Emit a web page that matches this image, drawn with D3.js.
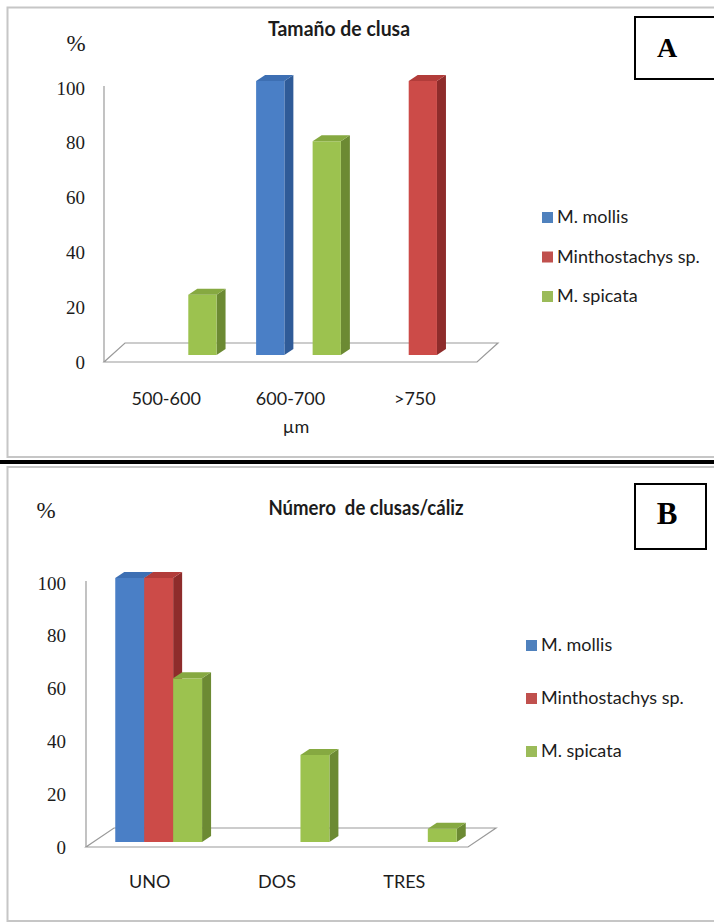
<!DOCTYPE html>
<html>
<head>
<meta charset="utf-8">
<script src="https://cdn.jsdelivr.net/npm/d3@7/dist/d3.min.js"></script>
<style>
  html, body { margin: 0; padding: 0; background: #fff; }
  svg { display: block; }
</style>
</head>
<body>
<div id="figure"></div>
<script>
// series / categories / values
const series = ["M. mollis", "Minthostachys sp.", "M. spicata"];

const sizeCategories = ["500-600", "600-700", ">750"];
const sizeMollis = [0, 100, 0];
const sizeMintho = [0, 0, 100];
const sizeSpicata = [22, 78, 0];

const countCategories = ["UNO", "DOS", "TRES"];
const countMollis = [100, 0, 0];
const countMintho = [100, 0, 0];
const countSpicata = [62, 33, 5];

const yTicks = [0, 20, 40, 60, 80, 100];

const colors = {
    front: ["#4a7fc6", "#cc4b48", "#9cc24f"],
    side: ["#2f5b98", "#8e2c2b", "#6c8a33"],
    top: ["#3d6fb3", "#b23c3a", "#86a941"],
    legend: ["#4f81bd", "#c0504d", "#9bbb59"],
    axis: "#9a9a9a",
    text: "#1c1c1c",
    border: "#c6c6c6"
};

const SANS = "Lato, 'Open Sans', sans-serif";
const SERIF = "'Liberation Serif', 'DejaVu Serif', serif";

const svg = d3.select("#figure").append("svg")
    .attr("width", 714)
    .attr("height", 923);

function drawPanel(cfg, categories, values, title) {
    const g = svg.append("g");

    // panel frame
    g.append("rect")
        .attr("x", 7.5).attr("y", cfg.top)
        .attr("width", 730).attr("height", cfg.bottom - cfg.top)
        .attr("fill", "#fff")
        .attr("stroke", colors.border)
        .attr("stroke-width", 2);

    const x = d3.scaleBand().domain(categories).range([cfg.axisX, cfg.plotRight]);
    const xs = d3.scaleBand().domain(series).range([0, x.bandwidth()]).paddingOuter(0.7);
    const y = d3.scaleLinear().domain([0, 100]).range([cfg.y0, cfg.y100]);

    // floor
    const floor = [
        [cfg.axisX, y(0)],
        [cfg.plotRight, y(0)],
        [cfg.plotRight + cfg.floorDx, y(0) + cfg.floorDy],
        [cfg.axisX + cfg.floorDx, y(0) + cfg.floorDy]
    ];
    g.append("path")
        .attr("d", d3.line()(floor) + "Z")
        .attr("fill", "none")
        .attr("stroke", colors.axis)
        .attr("stroke-width", 1.2);

    g.append("line")
        .attr("x1", cfg.axisX).attr("x2", cfg.axisX)
        .attr("y1", y(0)).attr("y2", y(100) - 2)
        .attr("stroke", colors.axis)
        .attr("stroke-width", 1.2);

    // y axis labels
    const yAxis = g.append("g")
        .attr("transform", `translate(${cfg.axisX},0)`)
        .call(d3.axisLeft(y).tickValues(yTicks).tickSize(0).tickPadding(cfg.tickPad));
    yAxis.select(".domain").remove();
    yAxis.attr("font-family", SERIF).attr("font-size", 19);
    yAxis.selectAll("text").attr("fill", colors.text);

    // category labels
    const xAxis = g.append("g")
        .attr("transform", `translate(0,${y(0)})`)
        .call(d3.axisBottom(x).tickSize(0).tickPadding(cfg.catPad));
    xAxis.select(".domain").remove();
    xAxis.attr("font-family", SANS).attr("font-size", 18);
    xAxis.selectAll("text").attr("fill", colors.text);

    // 3d columns
    const dx = 9, dy = -6;
    const bars = [];
    series.forEach((s, i) => {
        categories.forEach((c, j) => {
            if (values[i][j] > 0) bars.push({ s, i, c, v: values[i][j] });
        });
    });
    bars.sort((a, b) => categories.indexOf(a.c) - categories.indexOf(b.c) || a.i - b.i);

    const w = xs.bandwidth();
    const barG = g.selectAll(".bar").data(bars).enter().append("g").attr("class", "bar");
    const left = d => x(d.c) + xs(d.s) + cfg.barDx;
    const base = () => y(0) + cfg.barDy;
    const topY = d => y(d.v) + cfg.barDy;

    barG.append("path")
        .attr("d", d => d3.line()([
            [left(d) + w, topY(d)], [left(d) + w + dx, topY(d) + dy],
            [left(d) + w + dx, base() + dy], [left(d) + w, base()]
        ]) + "Z")
        .attr("fill", d => colors.side[d.i]);

    barG.append("rect")
        .attr("x", left)
        .attr("y", topY)
        .attr("width", w)
        .attr("height", d => base() - topY(d))
        .attr("fill", d => colors.front[d.i]);

    barG.append("path")
        .attr("d", d => d3.line()([
            [left(d), topY(d)], [left(d) + dx, topY(d) + dy],
            [left(d) + w + dx, topY(d) + dy], [left(d) + w, topY(d)]
        ]) + "Z")
        .attr("fill", d => colors.top[d.i]);

    // legend
    const legend = g.selectAll(".legend").data(series).enter().append("g")
        .attr("class", "legend")
        .attr("transform", (d, i) => `translate(${cfg.legendX},${cfg.legendY + i * cfg.legendStep})`);
    legend.append("rect")
        .attr("x", 0).attr("y", -11)
        .attr("width", 11).attr("height", 11)
        .attr("fill", (d, i) => colors.legend[i]);
    legend.append("text")
        .attr("x", 15)
        .attr("font-family", SANS)
        .attr("font-size", 18)
        .attr("fill", colors.text)
        .text(d => d);

    // title
    g.append("text")
        .attr("x", cfg.titleX).attr("y", cfg.titleY)
        .attr("text-anchor", "middle")
        .attr("font-family", SANS)
        .attr("font-weight", "bold")
        .attr("font-size", 20)
        .attr("textLength", cfg.titleLen)
        .attr("lengthAdjust", "spacingAndGlyphs")
        .attr("fill", colors.text)
        .style("white-space", "pre")
        .text(title);

    g.append("text")
        .attr("x", cfg.pctX).attr("y", cfg.pctY)
        .attr("text-anchor", "middle")
        .attr("font-family", SERIF)
        .attr("font-size", 23)
        .attr("fill", colors.text)
        .text("%");

    // letter box
    g.append("rect")
        .attr("x", 635).attr("y", cfg.boxY)
        .attr("width", cfg.boxW).attr("height", cfg.boxH)
        .attr("fill", "#fff")
        .attr("stroke", "#000")
        .attr("stroke-width", 2);
    g.append("text")
        .attr("x", 667).attr("y", cfg.letterY)
        .attr("text-anchor", "middle")
        .attr("font-family", SERIF)
        .attr("font-weight", "bold")
        .attr("font-size", cfg.letterSize)
        .attr("fill", "#000")
        .text(cfg.letter);

    return g;
}

const panelA = {
    top: 7.5, bottom: 457,
    axisX: 104, plotRight: 477, y0: 362, y100: 88,
    floorDx: 21, floorDy: -19, barDx: 8, barDy: -7,
    tickPad: 19, catPad: 30,
    legendX: 542, legendY: 223, legendStep: 39.5,
    titleX: 339, titleY: 36, titleLen: 142,
    pctX: 76, pctY: 51,
    boxY: 17, boxW: 90, boxH: 62, letter: "A", letterY: 57, letterSize: 28
};

const panelB = {
    top: 467, bottom: 921,
    axisX: 86, plotRight: 468, y0: 847, y100: 583,
    floorDx: 28, floorDy: -19, barDx: 9, barDy: -5,
    tickPad: 20, catPad: 28,
    legendX: 526, legendY: 651, legendStep: 53,
    titleX: 366, titleY: 515, titleLen: 195,
    pctX: 46, pctY: 518,
    boxY: 484, boxW: 71, boxH: 65, letter: "B", letterY: 524, letterSize: 31
};

const gA = drawPanel(panelA, sizeCategories, [sizeMollis, sizeMintho, sizeSpicata], "Tamaño de clusa");

gA.append("text")
    .attr("x", 296).attr("y", 433)
    .attr("text-anchor", "middle")
    .attr("font-family", SANS)
    .attr("font-size", 18)
    .attr("fill", colors.text)
    .text("µm");

drawPanel(panelB, countCategories, [countMollis, countMintho, countSpicata], "Número  de clusas/cáliz");

// separator between the two panels
svg.append("rect")
    .attr("x", 0).attr("y", 460)
    .attr("width", 714).attr("height", 4)
    .attr("fill", "#000");
</script>
</body>
</html>
